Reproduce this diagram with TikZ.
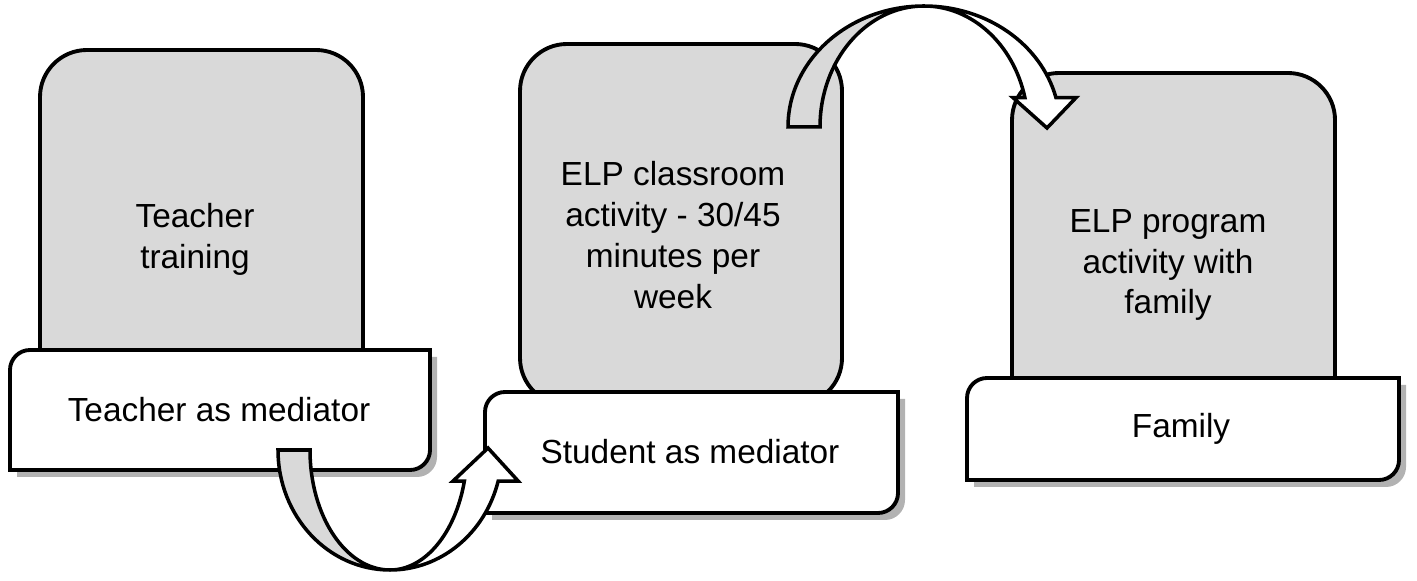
\documentclass[tikz,border=0pt]{standalone}
\usepackage{fontspec}
\setmainfont{Liberation Sans}
\usepackage{tikz}
\usetikzlibrary{shadows}
\definecolor{boxgray}{HTML}{D9D9D9}
\tikzset{
	graybox/.style={draw,line width=1.1pt,fill=boxgray,rounded corners=4.7mm},
	tabbox/.style={draw,line width=1.1pt,fill=white,drop shadow={shadow xshift=.7mm,shadow yshift=-.7mm,opacity=.3,fill=black}},
	boxtext/.style={align=center,font=\fontsize{9.5}{11.6}\selectfont},
	bendarrow/.style={draw,line width=1pt,line join=miter}
}
\newcommand\tabframe[4]{%khung trang: goc tren trai va duoi phai bo tron
	\draw[tabbox] (#1,#2)--(#1,#4-20) arc[start angle=180,end angle=90,radius=2mm]--(#3,#4)--(#3,#2+20) arc[start angle=0,end angle=-90,radius=2mm]--cycle;}
\begin{document}
\begin{tikzpicture}[x=.1mm,y=.1mm]
	\useasboundingbox (0,0) rectangle (1417,580);
	%buoc 1
	\draw[graybox] (40,150) rectangle (363,530);
	\node[boxtext] (training) at (195,341) {Teacher\\training};
	\tabframe{10}{110}{430}{230}
	\node[boxtext] (teacher) at (219,170) {Teacher as mediator};
	%buoc 2
	\draw[graybox] (520,175) rectangle (842,536);
	\node[boxtext] (classroom) at (673,345) {ELP classroom\\activity - 30/45\\minutes per\\week};
	\tabframe{485}{67}{898}{188}
	\node[boxtext] (student) at (690,128) {Student as mediator};
	%buoc 3
	\draw[graybox] (1012,130) rectangle (1335,507);
	\node[boxtext] (program) at (1168,315) {ELP program\\activity with\\family};
	\tabframe{967}{100}{1399}{202}
	\node[boxtext] (family) at (1181,151) {Family};
	%mui ten cong duoi
	\coordinate (lowc) at (390,130);
	\draw[bendarrow,fill=boxgray] ([shift={(180:11.2mm and 12mm)}]lowc) arc[start angle=180,end angle=270,x radius=11.2mm,y radius=12mm] arc[start angle=270,end angle=180,x radius=8mm,y radius=12mm]--cycle;
	\draw[bendarrow,fill=white] ([shift={(270:11.2mm and 12mm)}]lowc) arc[start angle=270,end angle=345,x radius=11.2mm,y radius=12mm]--++(20,0)--(488,132)--(453,98.94)--([shift={(-15:7.7mm and 12mm)}]lowc) arc[start angle=-15,end angle=-90,x radius=7.7mm,y radius=12mm]--cycle;
	%mui ten cong tren
	\coordinate (upc) at (924,453);
	\draw[bendarrow,fill=boxgray] ([shift={(180:13.6mm and 12.1mm)}]upc) arc[start angle=180,end angle=90,x radius=13.6mm,y radius=12.1mm] arc[start angle=90,end angle=180,x radius=10.4mm,y radius=12.1mm]--cycle;
	\draw[bendarrow,fill=white] ([shift={(90:13.6mm and 12.1mm)}]upc) arc[start angle=90,end angle=14,x radius=13.6mm,y radius=12.1mm]--++(20,0)--(1047,452)--(1013,482.3)--([shift={(14:10.4mm and 12.1mm)}]upc) arc[start angle=14,end angle=90,x radius=10.4mm,y radius=12.1mm]--cycle;
\end{tikzpicture}
\end{document}
